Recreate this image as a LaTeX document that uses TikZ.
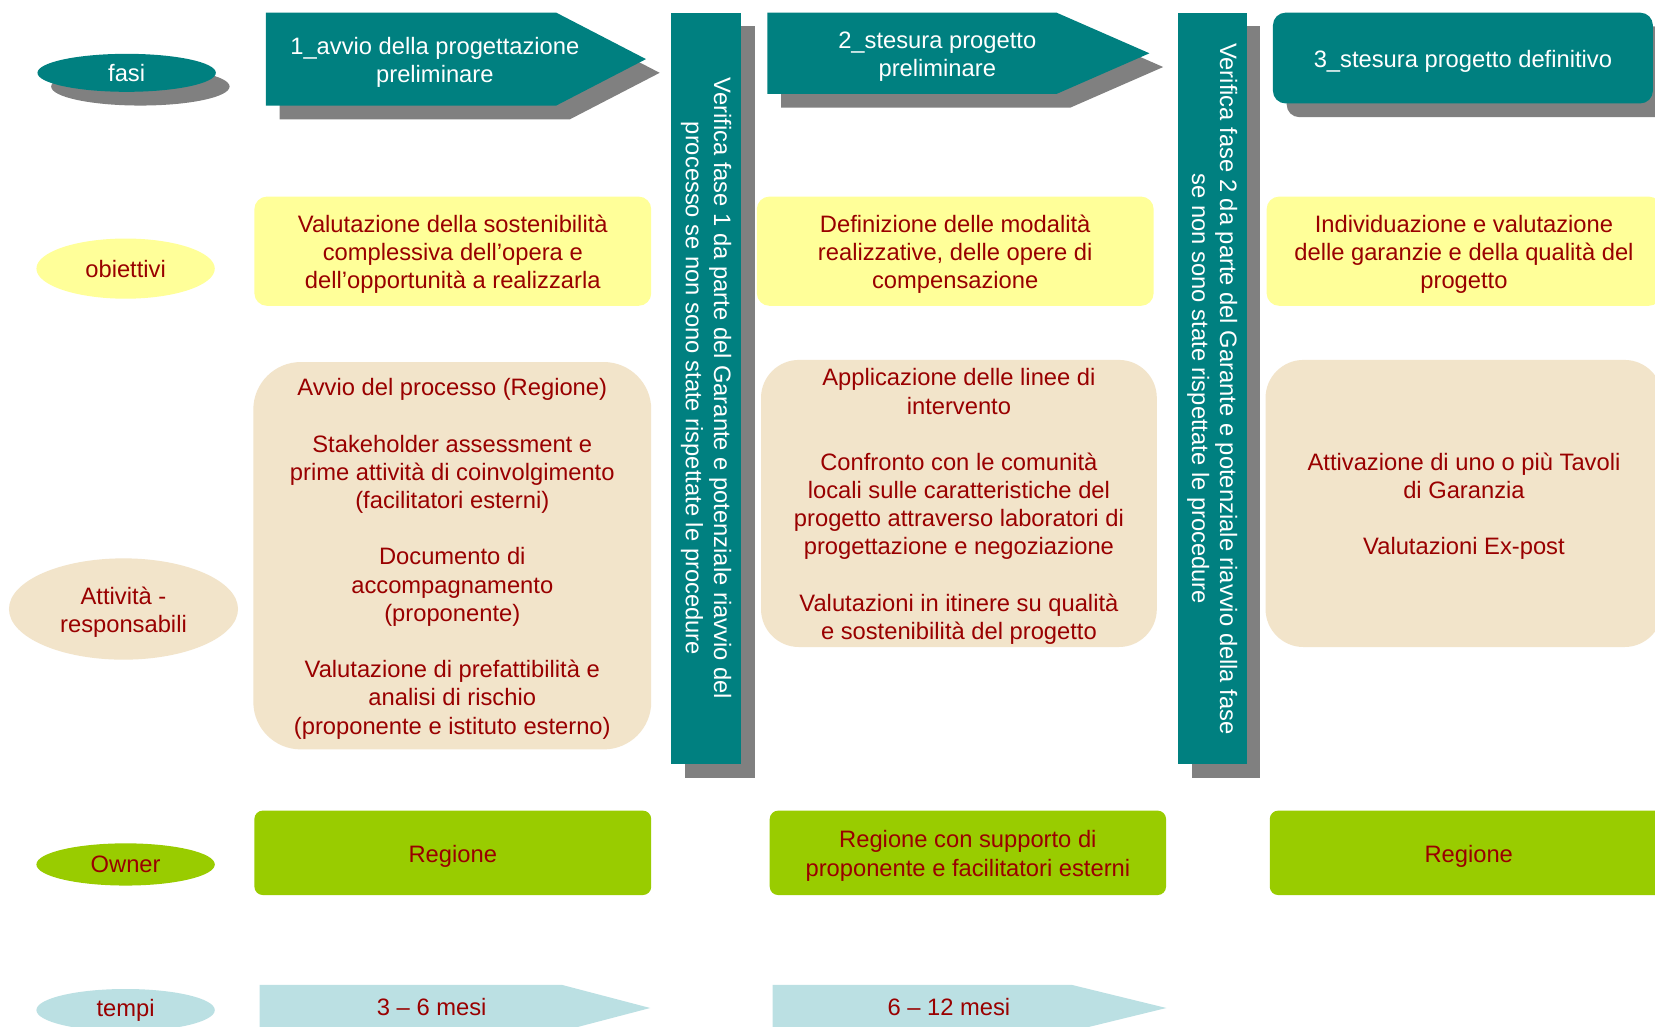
\documentclass[tikz,border=0pt]{standalone}
\usepackage{fontspec}
\setmainfont{Liberation Sans}
\usetikzlibrary{shapes.geometric,shadows}

\definecolor{fase}{HTML}{008080}
\definecolor{grigio}{HTML}{808080}
\definecolor{giallo}{HTML}{FFFF99}
\definecolor{beige}{HTML}{F2E4CA}
\definecolor{verde}{HTML}{99CC00}
\definecolor{celeste}{HTML}{BBE0E3}
\definecolor{testo}{HTML}{990000}

\newcommand{\alza}{\rule{0pt}{6.3pt}}

\begin{document}
\begin{tikzpicture}[font=\fontsize{6.4}{7.6}\selectfont,
    ombra/.style={drop shadow={shadow xshift=0.13cm,shadow yshift=-0.13cm,
                               opacity=1,fill=grigio}}]
\useasboundingbox (0,0) rectangle (15.68,-9.73);
\clip (0,0) rectangle (15.68,-9.73);
\fill[white] (0,0) rectangle (15.68,-9.73);

\begin{scope}[every node/.style={ellipse,inner sep=0pt,minimum width=1.69cm,text=testo}]
    \node[fill=fase,text=white,minimum height=0.36cm,ombra] (fasi) at (1.20,-0.69) {fasi};
    \node[fill=giallo,minimum height=0.57cm] (obiettivi) at (1.19,-2.545) {obiettivi};
    \node[fill=beige,minimum width=2.17cm,minimum height=0.96cm,align=center]
        (attivita) at (1.17,-5.77) {\alza Attività -\\responsabili};
    \node[fill=verde,minimum height=0.40cm] (owner) at (1.19,-8.19) {Owner};
    \node[fill=celeste,minimum height=0.40cm] (tempi) at (1.19,-9.57) {tempi};
\end{scope}

% fasi
\fill[fase,ombra] (2.52,-0.12) -- (5.27,-0.12) -- (6.12,-0.56) -- (5.27,-1.00) -- (2.52,-1.00) -- cycle;
\fill[fase,ombra] (7.27,-0.12) -- (10.01,-0.12) -- (10.89,-0.505) -- (10.01,-0.89) -- (7.27,-0.89) -- cycle;
\fill[fase,ombra] (6.36,-0.12) rectangle (7.02,-7.24);
\fill[fase,ombra] (11.16,-0.12) rectangle (11.81,-7.24);

\begin{scope}[every node/.style={align=center,text=white}]
    \node (fase1) at (4.12,-0.56) {\alza 1\_avvio della progettazione\\preliminare};
    \node (fase2) at (8.88,-0.505) {\alza 2\_stesura progetto\\preliminare};
    \node[fill=fase,rounded corners=0.12cm,minimum width=3.60cm,minimum height=0.86cm,ombra]
        (fase3) at (13.86,-0.55) {\alza 3\_stesura progetto definitivo};
    \node[rotate=-90] (verifica1) at (6.69,-3.68)
        {Verifica fase 1 da parte del Garante e potenziale riavvio del\\processo se non sono state rispettate le procedure};
    \node[rotate=-90] (verifica2) at (11.485,-3.685)
        {Verifica fase 2 da parte del Garante e potenziale riavvio della fase\\se non sono state rispettate le procedure};
\end{scope}

% tempi
\fill[celeste] (2.46,-9.33) -- (5.32,-9.33) -- (6.16,-9.55) -- (5.32,-9.77) -- (2.46,-9.77) -- cycle;
\fill[celeste] (7.32,-9.33) -- (10.15,-9.33) -- (11.05,-9.55) -- (10.15,-9.77) -- (7.32,-9.77) -- cycle;

\begin{scope}[every node/.style={rounded corners=0.12cm,inner sep=0pt,align=center,text=testo}]
    \node[fill=giallo,minimum width=3.76cm,minimum height=1.035cm] (ob1) at (4.29,-2.38)
        {\alza Valutazione della sostenibilità\\complessiva dell’opera e\\dell’opportunità a realizzarla};
    \node[fill=giallo,minimum width=3.76cm,minimum height=1.035cm] (ob2) at (9.05,-2.38)
        {\alza Definizione delle modalità\\realizzative, delle opere di\\compensazione};
    \node[fill=giallo,minimum width=3.74cm,minimum height=1.035cm] (ob3) at (13.87,-2.38)
        {\alza Individuazione e valutazione\\delle garanzie e della qualità del\\progetto};

    \node[fill=beige,rounded corners=0.45cm,minimum width=3.77cm,minimum height=3.67cm] (at1) at (4.285,-5.265)
        {\alza Avvio del processo (Regione)\\[7.6pt]Stakeholder assessment e\\prime attività di coinvolgimento\\(facilitatori esterni)\\[7.6pt]Documento di\\accompagnamento\\(proponente)\\[7.6pt]Valutazione di prefattibilità e\\analisi di rischio\\(proponente e istituto esterno)};
    \node[fill=beige,rounded corners=0.36cm,minimum width=3.75cm,minimum height=2.72cm] (at2) at (9.085,-4.77)
        {\alza Applicazione delle linee di\\intervento\\[7.6pt]Confronto con le comunità\\locali sulle caratteristiche del\\progetto attraverso laboratori di\\progettazione e negoziazione\\[7.6pt]Valutazioni in itinere su qualità\\e sostenibilità del progetto};
    \node[fill=beige,rounded corners=0.36cm,minimum width=3.76cm,minimum height=2.72cm] (at3) at (13.87,-4.77)
        {\alza Attivazione di uno o più Tavoli\\di Garanzia\\[7.6pt]Valutazioni Ex-post};

    \node[fill=verde,rounded corners=0.08cm,minimum width=3.76cm,minimum height=0.80cm] (ow1) at (4.29,-8.08) {\alza Regione};
    \node[fill=verde,rounded corners=0.08cm,minimum width=3.755cm,minimum height=0.80cm] (ow2) at (9.17,-8.08)
        {\alza Regione con supporto di\\proponente e facilitatori esterni};
    \node[fill=verde,rounded corners=0.08cm,minimum width=3.77cm,minimum height=0.80cm] (ow3) at (13.915,-8.08) {\alza Regione};

    \node (te1) at (4.09,-9.54) {3 – 6 mesi};
    \node (te2) at (8.99,-9.54) {6 – 12 mesi};
\end{scope}
\end{tikzpicture}
\end{document}
